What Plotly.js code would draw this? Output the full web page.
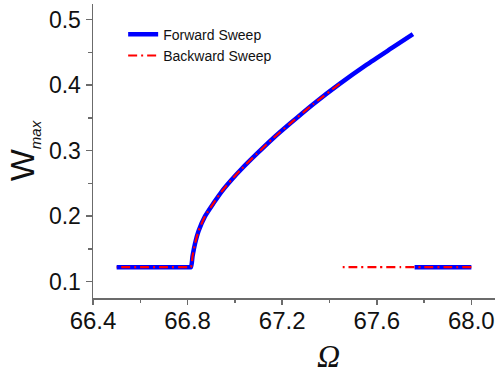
<!DOCTYPE html>
<html>
<head>
<meta charset="utf-8">
<script src="https://cdn.plot.ly/plotly-3.0.1.min.js"></script>
<style>
  html, body { margin: 0; padding: 0; background: #fff; }
  #chart { width: 496px; height: 375px; }
</style>
</head>
<body>
<div id="chart"></div>
<script>
// Forward sweep: lower branch, jump up onto the resonant branch, then drop after 67.75
const fwdOmega = [66.50, 66.60, 66.70, 66.80, 66.814, 66.821, 66.832, 66.846, 66.874, 66.910,
                  66.945, 66.987, 67.028, 67.092, 67.162, 67.232, 67.331, 67.443, 67.556, 67.669, 67.753,
                  null,
                  67.76, 67.85, 67.95, 68.00];
const fwdW     = [0.122, 0.122, 0.122, 0.122, 0.122, 0.139, 0.159, 0.177, 0.200, 0.220,
                  0.238, 0.256, 0.272, 0.295, 0.319, 0.341, 0.371, 0.402, 0.431, 0.458, 0.478,
                  null,
                  0.122, 0.122, 0.122, 0.122];

// Backward sweep: from 68.0 downward, jumps onto the upper branch near 67.45
const bwdOmega = [68.00, 67.90, 67.80, 67.70, 67.60, 67.50, 67.456,
                  null,
                  67.443, 67.331, 67.232, 67.162, 67.092, 67.028, 66.987, 66.945, 66.910, 66.874,
                  66.846, 66.832, 66.821, 66.814, 66.80, 66.70, 66.60, 66.50];
const bwdW     = [0.122, 0.122, 0.122, 0.122, 0.122, 0.122, 0.122,
                  null,
                  0.402, 0.371, 0.341, 0.319, 0.295, 0.272, 0.256, 0.238, 0.220, 0.200,
                  0.177, 0.159, 0.139, 0.122, 0.122, 0.122, 0.122, 0.122];

const xTickVals = [66.4, 66.8, 67.2, 67.6, 68.0];
const xTickText = ["66.4", "66.8", "67.2", "67.6", "68.0"];
const xMinorVals = [66.6, 67.0, 67.4, 67.8];
const yTickVals = [0.1, 0.2, 0.3, 0.4, 0.5];
const yTickText = ["0.1", "0.2", "0.3", "0.4", "0.5"];
const yMinorVals = [0.15, 0.25, 0.35, 0.45];

const seriesNames = ["Forward Sweep", "Backward Sweep"];

const axisColor = "#6b6b6b";
const tickFont = { family: "Arial, 'Liberation Sans', sans-serif", size: 23, color: "#111" };

const traces = [
  {
    x: fwdOmega, y: fwdW, name: seriesNames[0],
    type: "scatter", mode: "lines", connectgaps: false,
    line: { color: "#0000ff", width: 4.5, shape: "spline", smoothing: 0.6 }
  },
  {
    x: bwdOmega, y: bwdW, name: seriesNames[1],
    type: "scatter", mode: "lines", connectgaps: false,
    line: { color: "#ff0000", width: 2.2, dash: "9px,4px,2px,4px", shape: "spline", smoothing: 0.6 }
  }
];

const layout = {
  width: 496, height: 375,
  margin: { l: 93, r: 1, t: 4, b: 77 },
  paper_bgcolor: "#fff", plot_bgcolor: "#fff",
  showlegend: true,
  legend: {
    x: 0.075, y: 0.95, xanchor: "left", yanchor: "top",
    bgcolor: "rgba(0,0,0,0)",
    font: { family: "Arial, 'Liberation Sans', sans-serif", size: 14, color: "#111" }
  },
  xaxis: {
    range: [66.4, 68.1],
    showline: true, linecolor: axisColor, linewidth: 1.5,
    showgrid: false, zeroline: false,
    tickmode: "array", tickvals: xTickVals, ticktext: xTickText,
    ticks: "outside", ticklen: 5, tickwidth: 1.5, tickcolor: axisColor,
    ticklabelstandoff: -4,
    tickfont: Object.assign({}, tickFont, { size: 24 }),
    minor: { tickmode: "array", tickvals: xMinorVals, ticks: "outside", ticklen: 3, tickwidth: 1.5, tickcolor: axisColor }
  },
  yaxis: {
    range: [0.075, 0.524],
    showline: true, linecolor: axisColor, linewidth: 1.5,
    showgrid: false, zeroline: false,
    tickmode: "array", tickvals: yTickVals, ticktext: yTickText,
    ticks: "outside", ticklen: 6, tickwidth: 1.5, tickcolor: axisColor,
    tickfont: tickFont,
    minor: { tickmode: "array", tickvals: yMinorVals, ticks: "outside", ticklen: 4, tickwidth: 1.5, tickcolor: axisColor },
    title: {
      text: "W<sub><span style='font-size:15px;font-style:italic'>max</span></sub>",
      font: { family: "Arial, 'Liberation Sans', sans-serif", size: 34, color: "#111" },
      standoff: 4
    }
  },
  annotations: [
    {
      text: "<i>Ω</i>",
      xref: "paper", yref: "paper", x: 0.585, y: 0,
      xanchor: "center", yanchor: "middle", yshift: -58,
      showarrow: false,
      font: { family: "'Liberation Serif', 'DejaVu Serif', serif", size: 32, color: "#111" }
    }
  ]
};

Plotly.newPlot("chart", traces, layout, { displayModeBar: false, staticPlot: true });
</script>
</body>
</html>
